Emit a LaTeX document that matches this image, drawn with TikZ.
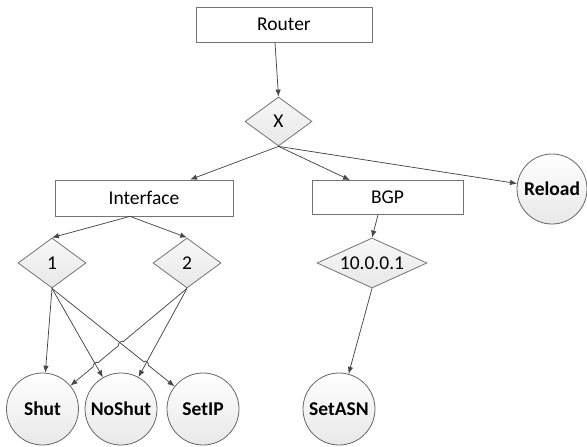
\documentclass[tikz,border=0pt]{standalone}
\usepackage{fontspec}
\setmainfont{Carlito}
\usetikzlibrary{shapes.geometric,arrows.meta,calc,intersections}
\begin{document}
\begin{tikzpicture}[x=1pt,y=-1pt,
  font=\fontsize{19.5}{23}\selectfont,
  box/.style={draw=black!55, fill=white, rectangle, inner sep=0pt, line width=0.8pt},
  dia/.style={draw=black!55, diamond, inner sep=0pt, top color=gray!6, bottom color=gray!18, line width=0.8pt, aspect=1.4},
  leaf/.style={draw=black!60, circle, inner sep=0pt, minimum size=72pt, top color=white, bottom color=gray!18, line width=0.8pt, font=\fontsize{19.5}{23}\selectfont\bfseries},
  conn/.style={draw=black!72, line width=0.75pt, -{Latex[length=7pt,width=5.5pt]}}]

\useasboundingbox (0,0) rectangle (587,447);

\node[box, minimum width=176pt, minimum height=35pt] (router) at (284,24.5) {Router};
\node[dia, minimum width=67pt, minimum height=49pt] (x) at (278.5,121.5) {X};
\node[box, minimum width=178pt, minimum height=36pt] (iface) at (144,198) {Interface};
\node[box, minimum width=151pt, minimum height=34pt] (bgp) at (387.5,197.5) {BGP};
\node[leaf, minimum size=70pt] (reload) at (552,189) {Reload};
\node[dia, minimum width=68pt, minimum height=50pt] (d1) at (52,263) {1};
\node[dia, minimum width=68pt, minimum height=50pt] (d2) at (187,263) {2};
\node[dia, minimum width=110pt, minimum height=50pt, aspect=2.2] (d10) at (372,263) {10.0.0.1};
\node[leaf] (shut) at (42.5,409) {Shut};
\node[leaf] (noshut) at (121,409) {NoShut};
\node[leaf] (setip) at (203,409) {SetIP};
\node[leaf] (setasn) at (339,409) {SetASN};

\draw[conn] ([xshift=-9pt]router.south) -- (x.north);
\draw[conn] (x.south) -- ([xshift=46pt]iface.north);
\draw[conn] (x.south) -- ([xshift=-37.5pt]bgp.north);
\draw[conn] (x.south) -- (reload);
\draw[conn] ([xshift=-14pt]iface.south) -- (d1.north);
\draw[conn] ([xshift=-14pt]iface.south) -- (d2.north);
\draw[conn] ([xshift=-9.5pt]bgp.south) -- (d10.north);
\draw[conn] (d10.south) -- (setasn);
\draw[conn] (d1.south) -- (shut);
\draw[conn] (d1.south) -- (noshut);
\draw[conn] (d2.south) -- (noshut);

\path[name path=p1N] (d1.south) -- (noshut.center);
\path[name path=p1P] (d1.south) -- (setip.center);
\path[name path=p2S] (d2.south) -- (shut.center);
\path[name path=p2N] (d2.south) -- (noshut.center);
\path[name intersections={of=p1P and p2S, by=ca}];
\path[name intersections={of=p1N and p2S, by=cb}];
\path[name intersections={of=p1P and p2N, by=cc}];

\draw[conn] (d2.south) -- ($(ca)!3pt!(d2.south)$) to[bend right=90] ($(ca)!-3pt!(d2.south)$)
   -- ($(cb)!3pt!(d2.south)$) to[bend right=90] ($(cb)!-3pt!(d2.south)$) -- (shut);
\draw[conn] (d1.south) -- ($(cc)!3pt!(d1.south)$) to[bend left=90] ($(cc)!-3pt!(d1.south)$) -- (setip);
\end{tikzpicture}
\end{document}
